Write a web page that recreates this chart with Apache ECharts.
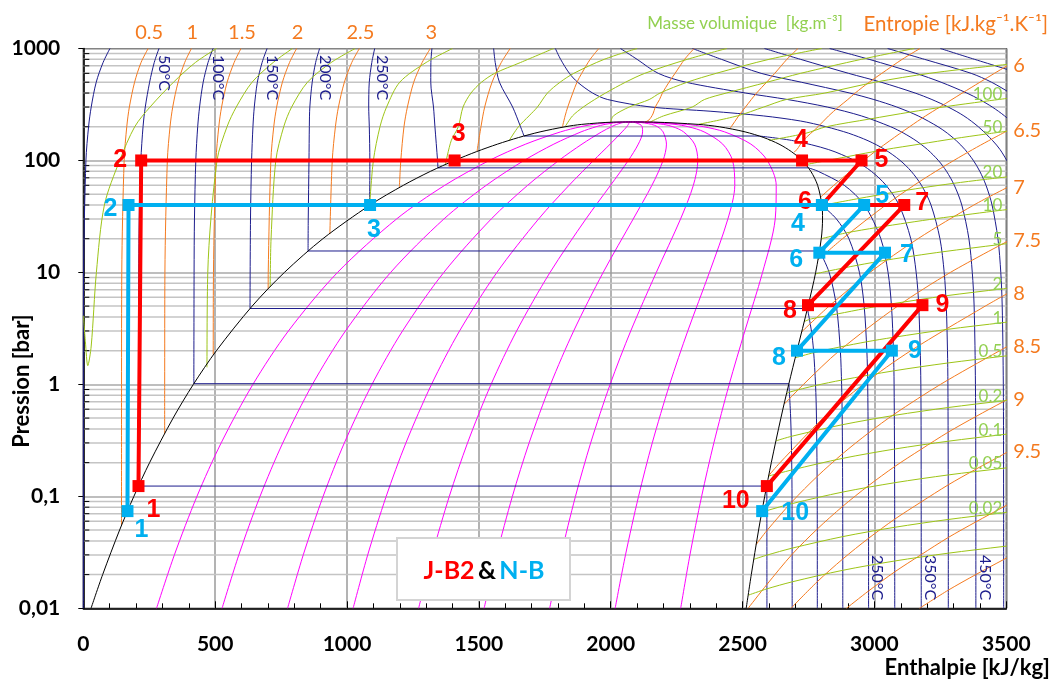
<!DOCTYPE html>
<html>
<head>
<meta charset="utf-8">
<script src="https://cdn.jsdelivr.net/npm/echarts/dist/echarts.min.js"></script>
<style>
html,body{margin:0;padding:0;background:#fff}
#chart{width:1051px;height:679px}
</style>
</head>
<body>
<div id="chart"></div>
<script>
// Mollier (p-h) diagram of water with two Rankine cycles (J-B2 and N-B).
// Enthalpy in kJ/kg, pressure in bar.

// ---------- saturation curve ----------
const satLiquid = [[29.3,0.01],[73.4,0.02],[137.7,0.05],[191.8,0.1],[251.4,0.2],[340.5,0.5],[417.4,1],[504.7,2],[640.2,5],[762.6,10],[908.5,20],[1087.4,40],[1213.7,60],[1316.6,80],[1407.9,100],[1491.3,120],[1571.0,140],[1649.7,160],[1732.0,180],[1827.1,200],[1890,210],[2011,220],[2084,220.64]];
const satVapour = [[2084,220.64],[2163,220],[2332,210],[2411.4,200],[2509.5,180],[2580.8,160],[2638.1,140],[2685.0,120],[2725.5,100],[2758.7,80],[2784.6,60],[2800.8,40],[2803.2,30],[2798.3,20],[2777.1,10],[2748.1,5],[2706.3,2],[2674.9,1],[2645.2,0.5],[2608.9,0.2],[2583.9,0.1],[2560.7,0.05],[2533.0,0.02],[2513.7,0.01]];

// ---------- constant-quality lines x = 0.1 ... 0.9 ----------
const qualityPressures = [0.01,0.03,0.1,0.3,1,3,10,30,60,100,140,180,200,210,220,220.64];
const qualityEnthalpy = [
  [277.7,345.4,431.0,522.8,643.2,777.8,964.1,1187.8,1370.8,1539.7,1677.7,1809.8,1885.5,1934.2,2026.2,2084],
  [526.2,589.8,670.2,756.4,868.9,994.1,1165.5,1367.3,1527.9,1671.4,1784.4,1887.5,1944.0,1978.4,2041.4,2084],
  [774.6,834.1,909.4,989.9,1094.7,1210.5,1367.0,1546.8,1685.0,1803.2,1891.1,1965.3,2002.4,2022.6,2056.6,2084],
  [1023.1,1078.5,1148.6,1223.4,1320.4,1426.8,1568.4,1726.3,1842.1,1934.9,1997.8,2043.0,2060.8,2066.8,2071.8,2084],
  [1271.5,1322.9,1387.9,1457.0,1546.2,1643.2,1769.9,1905.8,1999.2,2066.7,2104.6,2120.8,2119.3,2111,2087,2084],
  [1519.9,1567.3,1627.1,1690.5,1771.9,1859.5,1971.3,2085.2,2156.2,2198.5,2211.3,2198.5,2177.7,2155.2,2102.2,2084],
  [1768.4,1811.7,1866.3,1924.0,1997.7,2075.9,2172.8,2264.7,2313.3,2330.2,2318.0,2276.3,2236.1,2199.4,2117.4,2084],
  [2016.8,2056.0,2105.5,2157.5,2223.4,2292.2,2374.2,2444.2,2470.4,2462.0,2424.7,2354.0,2294.5,2243.6,2132.6,2084],
  [2265.3,2300.4,2344.7,2391.1,2449.2,2508.6,2575.7,2623.7,2627.5,2593.7,2531.4,2431.8,2353.0,2287.8,2147.8,2084]
];

// ---------- isotherms (°C) ----------
const isothermTemps = [0,50,100,150,200,250,300,350];
// compressed-liquid branch, from 1000 bar down to saturation
const isothermLiquid = [
  [[101,1000],[75,750],[49,500],[30,300],[20,200],[10,100],[1,10],[0.1,1],[0,0.01]],
  [[287,1000],[269,750],[251.5,500],[235,300],[226.5,200],[218,100],[213.5,50],[210.2,10],[209.3,0.1235]],
  [[492,1000],[473,750],[454.6,500],[440.9,300],[433.8,200],[426.6,100],[421.5,30],[420.1,10],[419.2,1.0142]],
  [[697,1000],[678,750],[660,500],[648.4,300],[643.3,200],[638.2,100],[634,30],[632.2,4.76]],
  [[896,1000],[881,750],[868,500],[859,300],[857.1,200],[855.8,100],[853,30],[852.3,15.54]],
  [[1105,1000],[1094,750],[1084.4,500],[1082.3,300],[1084.5,200],[1086.6,100],[1085.7,39.76]],
  [[1322,1000],[1318,750],[1317.6,500],[1327.9,300],[1333.4,200],[1343.3,100],[1344.8,85.88]],
  [[1556,1000],[1562,750],[1578,500],[1628,300],[1658,200],[1671.2,165.3]]
];
// superheated-vapour branch, from saturation down to 0.01 bar
const isothermVapour = [
  [],
  [[2591.3,0.1235],[2592,0.1],[2592.3,0.01]],
  [[2675.6,1.0142],[2675.8,1],[2682.4,0.5],[2686.3,0.2],[2687.5,0.1],[2688,0.01]],
  [[2745.9,4.76],[2761,3],[2769.1,2],[2776.6,1],[2780.2,0.5],[2783,0.1],[2783.4,0.01]],
  [[2792,15.54],[2828.3,10],[2855.8,5],[2870.7,2],[2875.5,1],[2877.8,0.5],[2879.6,0.1],[2880,0.01]],
  [[2800.9,39.76],[2856,30],[2903.3,20],[2943.1,10],[2961,5],[2971.2,2],[2974.5,1],[2977.5,0.1],[2977.8,0.01]],
  [[2749.6,85.88],[2786.5,80],[2885.6,60],[2961.7,40],[3024.2,20],[3051.6,10],[3064.6,5],[3072.1,2],[3074.5,1],[3076.7,0.1],[3077,0.01]],
  [[2563.6,165.3],[2693.1,150],[2826.6,125],[2924,100],[2988.1,80],[3043.9,60],[3093.3,40],[3137.7,20],[3158.2,10],[3168.1,5],[3176,1],[3177.2,0.1],[3177.4,0.01]]
];
const supercriticalTemps = [400,450,500,550,600,650,700];
const supercriticalIsotherms = [
  [[1790,1000],[1810,800],[1843.2,600],[1874.4,500],[1931.4,400],[1988.6,350],[2152.8,300],[2380,275],[2578.7,250],[2720,225],[2816.9,200],[2902.4,175],[2975.7,150],[3040,125],[3097.5,100],[3139.4,80],[3178.3,60],[3214.5,40],[3248.4,20],[3264.5,10],[3272.4,5],[3277,2],[3278.6,1],[3279.9,0.1],[3280.1,0.01]],
  [[2037,1000],[2100,800],[2180.2,600],[2284.7,500],[2511.8,400],[2671,350],[2821,300],[2950.6,250],[3061.7,200],[3111.4,175],[3157.9,150],[3201.5,125],[3242.4,100],[3273.3,80],[3302.9,60],[3331.2,40],[3358.2,20],[3371,10],[3378,5],[3383,1],[3384.4,0.1],[3384.6,0.01]],
  [[2310,1000],[2420,800],[2570.3,600],[2722.6,500],[2906.5,400],[2997.9,350],[3084.8,300],[3165.9,250],[3241.2,200],[3276.7,175],[3310.8,150],[3343.6,125],[3375.1,100],[3399.5,80],[3423.1,60],[3446,40],[3468.3,20],[3479.1,10],[3484.5,5],[3488.7,1],[3489.7,0.1],[3490,0.01]],
  [[2583,1000],[2720,800],[2901.9,600],[3025.4,500],[3154.4,400],[3218,350],[3279.7,300],[3339.2,250],[3394,200],[3448.6,150],[3476.5,125],[3502,100],[3520,85]],
  [[2830,1000],[2980,800],[3156.8,600],[3252.6,500],[3350.4,400],[3399,350],[3446.8,300],[3493.5,250],[3539,200]],
  [[3050,1000],[3190,800],[3366.8,600],[3443.9,500],[3515,400]],
  [[3250,1000],[3380,800],[3551.3,600]]
];

// ---------- isentropes (kJ/kg/K) ----------
const entropyValues = [0.5,1,1.5,2,2.5,3,3.5,4,4.5,5,5.5,6,6.5,7,7.5,8,8.5,9,9.5,10,10.5];
const isentropes = [
  [[246,1000],[219,750],[194.5,500],[174.7,300],[164.8,200],[154.9,100],[145.9,10],[145.0,1],[144.9,0.0552]],
  [[410,1000],[384.5,750],[359.4,500],[339.1,300],[328.9,200],[318.7,100],[309.5,10],[308.6,1],[308.5,0.363]],
  [[598,1000],[572,750],[545.5,500],[524.4,300],[513.8,200],[503.2,100],[493.6,10],[492.7,1.85]],
  [[809,1000],[782,750],[755,500],[733.2,300],[722.2,200],[711.2,100],[701.3,10],[701,7.12]],
  [[1047,1000],[1018,750],[990,500],[967.5,300],[956,200],[944,100],[935,22.1]],
  [[1316,1000],[1285,750],[1253,500],[1229,300],[1216,200],[1204,100],[1198.6,57.5]],
  [[1619,1000],[1585,750],[1550,500],[1522,300],[1508,200],[1493,120.6]],
  [[1955,1000],[1922,800],[1890,600],[1872,500],[1856,400],[1837,300],[1827,250],[1817,200]],
  [[2316,1000],[2280,800],[2244,600],[2221,500],[2196,400],[2185,350],[2169,300],[2160,260],[2145,230],[2130,220.3]],
  [[2710,1000],[2668,800],[2622,600],[2591,500],[2553,400],[2533,350],[2511,300],[2485,250],[2457,200],[2450,192]],
  [[3173,1000],[3105,800],[3028,600],[2980,500],[2927,400],[2899,350],[2864,300],[2826,250],[2786,200],[2729,150],[2706,125],[2695,119]],
  [[3545,800],[3503,700],[3455,600],[3400,500],[3333,400],[3248,300],[3194,250],[3133,200],[3058,150],[3012,125],[2959,100],[2909,80],[2846,60],[2797,47.3]],
  [[3533,200],[3433,150],[3372,125],[3301,100],[3233,80],[3150,60],[3043,40],[2879,20],[2787,13]],
  [[3520,60],[3377,40],[3165,20],[2983,10],[2828,5],[2724,2.94]],
  [[3523,20],[3288,10],[3088,5],[2867,2],[2731,1],[2659,0.67]],
  [[3530,7],[3420,5],[3138,2],[2957,1],[2806,0.5],[2642,0.2],[2598,0.152]],
  [[3530,2.35],[3475,2],[3250.5,1],[3076.7,0.545],[2977.5,0.368],[2879.6,0.2405],[2783,0.1507],[2687.5,0.0895],[2592,0.0494],[2551,0.037]],
  [[3530,0.79],[3489.7,0.7027],[3384.4,0.516],[3279.9,0.3745],[3177.2,0.2633],[3076.7,0.1845],[2977.5,0.1246],[2879.6,0.0814],[2783,0.051],[2687.5,0.0303],[2592,0.0163],[2521,0.01]],
  [[3530,0.27],[3489.7,0.2378],[3384.4,0.1747],[3279.9,0.1267],[3177.2,0.0891],[3076.7,0.0625],[2977.5,0.04217],[2879.6,0.02754],[2783,0.01726],[2683.5,0.01]],
  [[3530,0.091],[3489.7,0.0805],[3384.4,0.0591],[3279.9,0.0429],[3177.2,0.03016],[3076.7,0.02114],[2977.5,0.01427],[2894,0.01]],
  [[3530,0.0305],[3489.7,0.02724],[3384.4,0.02001],[3279.9,0.01452],[3171,0.01]]
];
const entropyTopLabels = ['0.5','1','1.5','2','2.5','3'];
const entropyRightLabels = ['6','6.5','7','7.5','8','8.5','9','9.5'];

// ---------- isochores (kg/m3) ----------
const densityValues = [1000,950,900,800,700,600,500,400,300,200,100,50,20,10,5,2,1,0.5,0.2,0.1,0.05,0.02,0.01];
const isochores = [
  [[0.5,4.1],[8,2.4],[17,1.47],[30,2.2],[49.6,10],[80,40],[138,100],[195,200],[253,300],[342,500],[425,750],[505,1000]],
  [[469,1.42],[472,10],[507,100],[545,200],[580,300],[640,500],[720,750],[793,1000]],
  [[708.6,7.4],[712,20],[730,100],[760,200],[790,300],[850,500],[940,750],[1031,1000]],
  [[1085.8,39.7],[1100,100],[1125,200],[1150,300],[1200,500],[1300,750],[1400,1000]],
  [[1373,92],[1395,150],[1422,200],[1440,300],[1470,400],[1510,500],[1560,600],[1658,750],[1783,1000]],
  [[1615,150.7],[1650,200],[1690,250],[1722,300],[1760,400],[1808,500],[1860,600],[1975,800],[2100,1000]],
  [[1827,200],[1855,250],[1896,300],[1939,350],[1980,400],[2056,500],[2129,600],[2290,800],[2440,1000]],
  [[2000,220.3],[2010,250],[2070,300],[2146,350],[2187,400],[2290,500],[2400,600],[2600,800],[2800,1000]],
  [[2150,220.5],[2200,250],[2309,300],[2355,350],[2438,400],[2593,500],[2720,600],[2950,800],[3150,1000]],
  [[2332,210],[2480,250],[2580,300],[2665,350],[2812,400],[3003,500],[3209,600],[3450,700],[3530,730]],
  [[2600,151],[2740,175],[2817,200],[2984,235],[3134,270],[3276,304],[3412,336],[3530,365]],
  [[2735,91.4],[2894,107.8],[3040,125],[3175,140.3],[3302,156.6],[3422,172],[3530,186]],
  [[2801,39.7],[2940,45.7],[3065,51.5],[3183,57.1],[3299,62.4],[3414,67.5],[3530,72.5]],
  [[2798.3,20],[2891,22.5],[3010,25.2],[3127,27.8],[3236,30.3],[3345,32.7],[3450,35.2],[3530,37]],
  [[2776,9.7],[2826,10.3],[2937,11.6],[3047,12.9],[3154,14.1],[3260,15.3],[3471,17.7],[3530,18.4]],
  [[2733.5,3.64],[2761,3.85],[2862,4.27],[2963,4.75],[3064,5.23],[3270,6.18],[3483,7.12],[3530,7.3]],
  [[2700.7,1.73],[2769.7,1.92],[2870,2.16],[2970,2.4],[3071,2.63],[3276,3.1],[3487,3.56],[3530,3.65]],
  [[2667,0.826],[2677.8,0.853],[2776.7,0.9765],[2875.4,1.092],[3074.3,1.3226],[3278.5,1.553],[3488.6,1.784],[3530,1.828]],
  [[2626.6,0.313],[2687,0.3444],[2879.4,0.4367],[3076.4,0.529],[3279.6,0.6213],[3489.5,0.7136],[3530,0.731]],
  [[2599.5,0.152],[2687.5,0.1722],[2879.6,0.2184],[3076.7,0.2645],[3279.9,0.3107],[3489.7,0.3568],[3530,0.3655]],
  [[2573.7,0.0723],[2592,0.07457],[2687.5,0.08611],[2879.6,0.1092],[3076.7,0.1323],[3279.9,0.1553],[3489.7,0.1784],[3530,0.1828]],
  [[2542.4,0.0274],[2592,0.02983],[2687.5,0.03444],[2879.6,0.04367],[3076.7,0.0529],[3279.9,0.06213],[3489.7,0.07136],[3530,0.0731]],
  [[2521.7,0.0131],[2592,0.01491],[2687.5,0.01722],[2879.6,0.02184],[3076.7,0.02645],[3279.9,0.03107],[3489.7,0.03568],[3530,0.0366]]
];
const densityLabels = ['100','50','20','10','5','2','1','0.5','0.2','0.1','0.05','0.02'];

// ---------- the two cycles, states 1 ... 10 ----------
const cycleSteps = ['1','2','3','4','5','6','7','8','9','10'];
const cycleJB2 = [[209.3,0.1235],[219.5,100],[1407.9,100],[2725.5,100],[2951,100],[2801,40],[3113,40],[2748,5.1],[3182,5.1],[2592,0.1235]];
const cycleNB  = [[167.5,0.0738],[171.5,40],[1087.4,40],[2800.8,40],[2961,40],[2791,15],[3040,15],[2706.3,2],[3066,2],[2574.3,0.0738]];

// ---------- axes ----------
const pressureMinor = [0.02,0.03,0.04,0.05,0.06,0.07,0.08,0.09,0.2,0.3,0.4,0.5,0.6,0.7,0.8,0.9,2,3,4,5,6,7,8,9,20,30,40,50,60,70,80,90,200,300,400,500,600,700,800,900];
const pressureTickText = {'1000':'1000','100':'100','10':'10','1':'1','0.1':'0,1','0.01':'0,01'};

// ---------- styles ----------
const FONT = 'Lato, "Liberation Sans", sans-serif';
const COL = {navy:'#1C1C8C', orange:'#F47A1F', green:'#9DC417', greenText:'#92D050', magenta:'#FF00FF', red:'#FF0000', blue:'#00B0F0'};
const H_MAX = 3500;

// label placement of the cycle states: [dx, dy] in pixels from the marker
const jb2LabelOffset = [[15,24],[-21,0],[4,-26],[-1,-20],[20,0],[-17,-3],[18,-2],[-18,6],[20,0],[-31,15]];
const nbLabelOffset  = [[14,19],[-18,4],[4,25],[-24,19],[18,-9],[-23,7],[22,2],[-18,7],[23,0],[33,2]];

function curve(data, color, z, smooth) {
  return {
    type: 'line', data: data, symbol: 'none', showSymbol: false,
    smooth: smooth === undefined ? 0.3 : smooth,
    silent: true, animation: false, z: z, clip: true,
    lineStyle: {color: color, width: 1}, emphasis: {disabled: true}
  };
}

const series = [];

// horizontal minor grid lines and the small ticks of the log axis
series.push({
  type: 'custom', silent: true, animation: false, z: 1,
  data: pressureMinor.map(p => [0, p]),
  renderItem: function (params, api) {
    const a = api.coord([0, api.value(1)]);
    const b = api.coord([H_MAX, api.value(1)]);
    return {type: 'group', children: [
      {type: 'line', shape: {x1: a[0], y1: a[1], x2: b[0], y2: b[1]}, style: {stroke: '#C4C4C4', lineWidth: 1.5}},
      {type: 'line', shape: {x1: a[0], y1: a[1], x2: a[0] + 6, y2: a[1]}, style: {stroke: '#000', lineWidth: 1}}
    ]};
  }
});

// quality lines
qualityEnthalpy.forEach(row => {
  series.push(curve(row.map((h, i) => [h, qualityPressures[i]]), COL.magenta, 3));
});

// isotherms
isothermTemps.forEach((t, i) => {
  const liq = isothermLiquid[i], vap = isothermVapour[i];
  series.push(curve(liq, COL.navy, 4));
  if (vap.length) {
    series.push(curve([liq[liq.length - 1], vap[0]], COL.navy, 4, false));
    series.push(curve(vap, COL.navy, 4));
  }
});
supercriticalIsotherms.forEach(d => series.push(curve(d, COL.navy, 4)));

// isentropes
isentropes.forEach(d => series.push(curve(d, COL.orange, 5)));

// isochores
isochores.forEach(d => series.push(curve(d, COL.green, 5)));

// saturation dome
series.push(curve(satLiquid, '#000', 6));
series.push(curve(satVapour, '#000', 6));

// cycles
function cycleSeries(points, color, offsets, z) {
  return {
    type: 'line', animation: false, silent: true, z: z,
    symbol: 'rect', symbolSize: 12, showSymbol: true,
    lineStyle: {color: color, width: 4}, itemStyle: {color: color},
    emphasis: {disabled: true},
    data: points.map((p, i) => ({
      value: p,
      label: {show: true, formatter: cycleSteps[i], position: 'inside', offset: offsets[i],
        color: color, fontFamily: '"Liberation Sans", Arial, sans-serif', fontWeight: 'bold', fontSize: 25,
        align: 'center', verticalAlign: 'middle'}
    }))
  };
}
series.push(cycleSeries(cycleJB2, COL.red, jb2LabelOffset, 10));
series.push(cycleSeries(cycleNB, COL.blue, nbLabelOffset, 11));

const option = {
  backgroundColor: '#fff',
  animation: false,
  grid: {left: 83.3, right: 44.7, top: 48.5, bottom: 70.7, show: true, borderColor: '#1a1a1a', borderWidth: 1.2, backgroundColor: 'transparent'},
  xAxis: {
    type: 'value', min: 0, max: H_MAX, interval: 500,
    axisLine: {show: true, lineStyle: {color: '#000', width: 1.5}},
    axisTick: {show: true, inside: true, length: 7, lineStyle: {color: '#000'}},
    minorTick: {show: true, splitNumber: 5, length: 5, lineStyle: {color: '#000'}},
    splitLine: {show: true, lineStyle: {color: '#9A9A9A', width: 1.5}},
    axisLabel: {margin: 25, color: '#000', fontFamily: FONT, fontWeight: 'bold', fontSize: 21,
      formatter: v => String(v)}
  },
  yAxis: {
    type: 'log', logBase: 10, min: 0.01, max: 1000,
    axisLine: {show: true, lineStyle: {color: '#000', width: 1.5}},
    axisTick: {show: true, inside: false, length: 5, lineStyle: {color: '#000'}},
    splitLine: {show: true, lineStyle: {color: '#A8A8A8', width: 1.5}},
    axisLabel: {margin: 23, color: '#000', fontFamily: FONT, fontWeight: 'bold', fontSize: 21,
      formatter: v => pressureTickText[String(parseFloat(Number(v).toPrecision(3)))] || ''}
  },
  series: series
};

const chart = echarts.init(document.getElementById('chart'), null, {renderer: 'canvas'});
chart.setOption(option);

// ---------- annotations placed from the data ----------
const toPx = (h, p) => chart.convertToPixel({gridIndex: 0}, [h, p]);
// pressure where a curve crosses the right border (log interpolation)
function edgePressure(points) {
  for (let i = 0; i < points.length - 1; i++) {
    const a = points[i], b = points[i + 1];
    if ((a[0] - H_MAX) * (b[0] - H_MAX) <= 0 && a[0] !== b[0]) {
      const t = (H_MAX - a[0]) / (b[0] - a[0]);
      return Math.pow(10, Math.log10(a[1]) + t * (Math.log10(b[1]) - Math.log10(a[1])));
    }
  }
  return null;
}

const graphics = [];
function txt(text, x, y, style, rotation) {
  graphics.push({type: 'text', x: x, y: y, rotation: rotation || 0, z: 100, silent: true,
    style: Object.assign({text: text, fontFamily: FONT}, style)});
}

// entropy labels along the top
entropyTopLabels.forEach(lbl => {
  const d = isentropes[entropyValues.indexOf(parseFloat(lbl))];
  const px = toPx(d[0][0], d[0][1]);
  txt(lbl, px[0] + 1, 33, {fill: COL.orange, fontSize: 20, align: 'center', verticalAlign: 'middle'});
});
// entropy labels along the right border
entropyRightLabels.forEach(lbl => {
  const d = isentropes[entropyValues.indexOf(parseFloat(lbl))];
  const p = edgePressure(d);
  const px = toPx(H_MAX, p);
  txt(lbl, px[0] + 7, px[1] - 1, {fill: COL.orange, fontSize: 20, align: 'left', verticalAlign: 'middle'});
});
// density labels just inside the right border
densityLabels.forEach(lbl => {
  const d = isochores[densityValues.indexOf(parseFloat(lbl))];
  const p = edgePressure(d);
  const px = toPx(H_MAX, p);
  txt(lbl, px[0] - 4, px[1] - 4, {fill: COL.greenText, fontSize: 17, align: 'right', verticalAlign: 'middle'});
});
// isotherm labels (vertical text)
[50,100,150,200,250].forEach(t => {
  const d = isothermLiquid[isothermTemps.indexOf(t)];
  const px = toPx(d[1][0], 1000);
  txt(t + '°C', px[0] + 10, 55, {fill: COL.navy, fontSize: 16, align: 'left', verticalAlign: 'middle'}, -Math.PI / 2);
});
[250,350,450].forEach(t => {
  const d = t < 400 ? isothermVapour[isothermTemps.indexOf(t)] : supercriticalIsotherms[supercriticalTemps.indexOf(t)];
  const last = d[d.length - 1];
  const px = toPx(last[0], last[1]);
  txt(t + '°C', px[0] + 9, 555, {fill: COL.navy, fontSize: 16, align: 'left', verticalAlign: 'middle'}, -Math.PI / 2);
});

// headings of the property families
txt('Masse volumique  [kg.m⁻³]', 843, 24, {fill: COL.greenText, fontSize: 17, align: 'right', verticalAlign: 'middle'});
txt('Entropie [kJ.kg⁻¹.K⁻¹]', 1048, 24, {fill: COL.orange, fontSize: 20.5, align: 'right', verticalAlign: 'middle'});

// axis titles
txt('Pression [bar]', 22, 381, {fill: '#000', fontSize: 22, fontWeight: 'bold', align: 'center', verticalAlign: 'middle'}, Math.PI / 2);
txt('Enthalpie [kJ/kg]', 1050, 668, {fill: '#000', fontSize: 22, fontWeight: 'bold', align: 'right', verticalAlign: 'middle'});

// cycle legend box
graphics.push({type: 'rect', z: 90, silent: true, shape: {x: 397, y: 538, width: 173, height: 62},
  style: {fill: '#fff', stroke: '#D4D4D4', lineWidth: 2}});
graphics.push({type: 'text', z: 100, silent: true, x: 484, y: 571,
  style: {text: '{r|J-B2} {k|&} {b|N-B}', align: 'center', verticalAlign: 'middle',
    rich: {
      r: {fill: COL.red, fontFamily: FONT, fontWeight: 'bold', fontSize: 25},
      k: {fill: '#000', fontFamily: FONT, fontWeight: 'bold', fontSize: 25},
      b: {fill: COL.blue, fontFamily: FONT, fontWeight: 'bold', fontSize: 25}
    }}});

chart.setOption({graphic: {elements: graphics}});
</script>
</body>
</html>
